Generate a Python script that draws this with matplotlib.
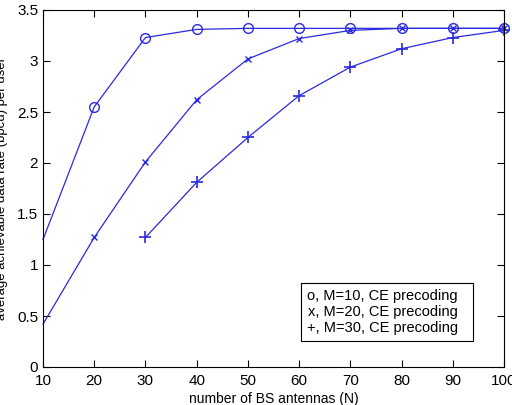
import matplotlib
matplotlib.use('Agg')
import matplotlib.pyplot as plt

# number of BS antennas
n_antennas = [10, 20, 30, 40, 50, 60, 70, 80, 90, 100]
rate_m10 = [1.25, 2.55, 3.23, 3.31, 3.32, 3.32, 3.32, 3.32, 3.32, 3.32]
rate_m20 = [0.42, 1.27, 2.01, 2.62, 3.02, 3.22, 3.30, 3.32, 3.32, 3.32]
n_antennas_m30 = [30, 40, 50, 60, 70, 80, 90, 100]
rate_m30 = [1.27, 1.81, 2.25, 2.66, 2.94, 3.12, 3.23, 3.30]
labels = ['o, M=10, CE precoding', 'x, M=20, CE precoding', '+, M=30, CE precoding']

plt.rcParams['font.family'] = ['Liberation Sans', 'DejaVu Sans']
blue = '#2a2ae0'

fig = plt.figure(figsize=(5.12, 4.05), dpi=100)
ax = fig.add_axes([43/512, 38/405, 461/512, 357/405])

ax.plot(n_antennas, rate_m10, color=blue, lw=0.9, marker='o', ms=7, mfc='none',
        markevery=list(range(1, 10)), label=labels[0], clip_on=False)
ax.plot(n_antennas, rate_m20, color=blue, lw=0.9, marker='x', ms=5,
        markevery=list(range(1, 10)), label=labels[1], clip_on=False)
ax.plot(n_antennas_m30, rate_m30, color=blue, lw=0.9, marker='+', ms=9, mew=1.2,
        label=labels[2], clip_on=False)

ax.set_xlim(10, 100)
ax.set_ylim(0, 3.5)
ax.set_xticks(range(10, 101, 10))
ax.set_yticks([0, 0.5, 1, 1.5, 2, 2.5, 3, 3.5])
ax.set_yticklabels(['0', '0.5', '1', '1.5', '2', '2.5', '3', '3.5'])
ax.tick_params(direction='in', top=True, right=True, labelsize=11, length=5, width=0.8)
ax.tick_params(axis='x', pad=5)
for s in ax.spines.values():
    s.set_linewidth(0.8)

ax.set_xlabel('number of BS antennas (N)', fontsize=10, labelpad=3)
ax.set_ylabel('average achievable data rate (bpcu) per user', fontsize=9.5)
ax.yaxis.set_label_coords(-35/461, 0.5)

# MATLAB-style legend: text only, blank space on the right
leg = ax.legend(loc='lower right', bbox_to_anchor=(0.933, 0.073), borderaxespad=0,
                markerfirst=False, handlelength=0.45, handletextpad=0.2,
                fontsize=10.5, fancybox=False, edgecolor='black', framealpha=1,
                borderpad=0.4, labelspacing=0.15)
for h in leg.legend_handles:
    h.set_visible(False)
leg.get_frame().set_linewidth(0.8)

fig.savefig('out.png', dpi=100)
